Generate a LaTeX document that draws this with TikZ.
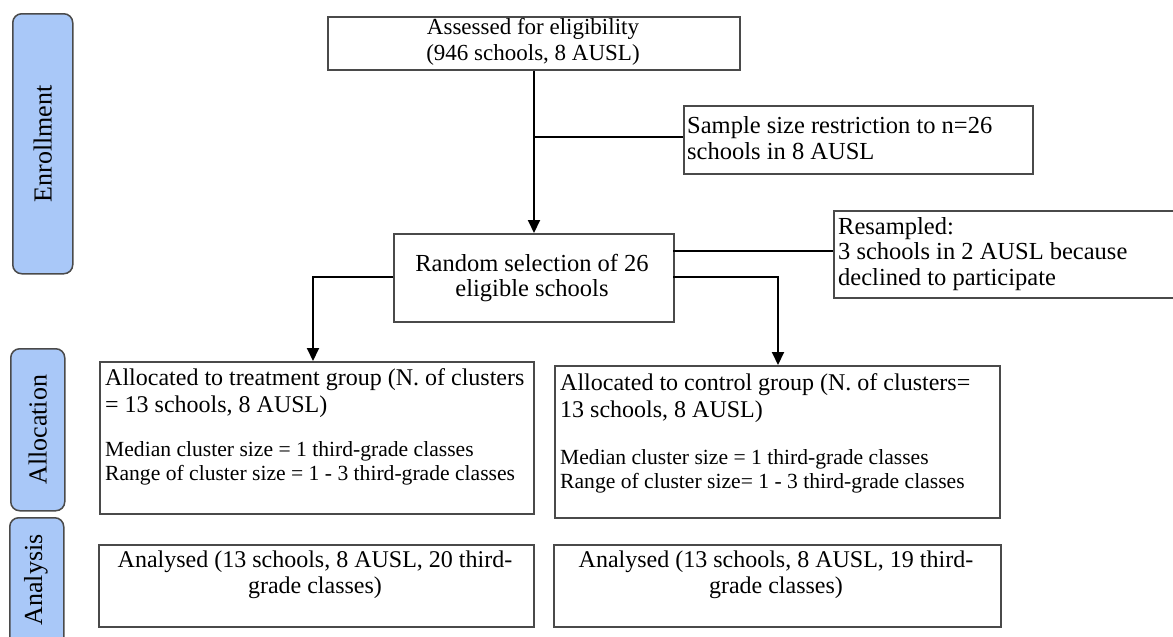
\documentclass[tikz,border=0pt]{standalone}
\usepackage{fontspec}
\setmainfont{Liberation Serif}
\usetikzlibrary{arrows.meta}
\definecolor{sidefill}{HTML}{A9C8F8}
\definecolor{edgecol}{HTML}{4A4A4A}
\begin{document}
\begin{tikzpicture}[x=1pt,y=-1pt,
  side/.style={draw=edgecol, fill=sidefill, line width=1.5pt, rounded corners=9pt, anchor=north west, inner sep=0pt},
  box/.style={draw=edgecol, line width=1.6pt, inner sep=0pt, anchor=north west},
  txt/.style={inner sep=0pt, font=\fontsize{23}{26}\selectfont},
  midtxt/.style={inner sep=0pt, font=\fontsize{24.5}{25.5}\selectfont},
  anatxt/.style={inner sep=0pt, font=\fontsize{24}{26}\selectfont},
  bigtxt/.style={inner sep=0pt, font=\fontsize{24}{27}\selectfont},
  smalltxt/.style={inner sep=0pt, font=\fontsize{21.6}{24}\selectfont},
  sidetxt/.style={inner sep=0pt, rotate=90, font=\fontsize{26}{28}\selectfont},
  arr/.style={line width=2pt, -{Triangle[width=12pt,length=13pt]}},
  link/.style={line width=1.3pt}
]
\useasboundingbox (0,0) rectangle (1173,637);

% side labels
\node[side, minimum width=60, minimum height=260] (enr) at (12,13) {};
\node[sidetxt] (enrT) at (enr.center) {Enrollment};
\node[side, minimum width=54, minimum height=162] (alloc) at (10,348) {};
\node[sidetxt] (allocT) at (alloc.center) {Allocation};
\node[side, minimum width=54, minimum height=140] (anal) at (9,517) {};
\node[sidetxt] (analT) at (36,580) {Analysis};

% boxes
\node[box, minimum width=412, minimum height=53] (assess) at (327,16) {};
\node[txt, align=center] (assessT) at (533,42) {Assessed for eligibility\\(946 schools, 8 AUSL)};

\node[box, minimum width=349, minimum height=68] (sample) at (683,105) {};
\node[midtxt, align=left, anchor=west] (sampleT) at (687,138) {Sample size restriction to n=26\\schools in 8 AUSL};

\node[box, minimum width=280, minimum height=88] (random) at (393,233) {};
\node[midtxt, align=center] (randomT) at (532,278) {Random selection of 26\\eligible schools};

\node[box, minimum width=345, minimum height=87] (resamp) at (833,210) {};
\node[midtxt, align=left, anchor=west] (resampT) at (838,254) {Resampled:\\3 schools in 2 AUSL because\\declined to participate};

\node[box, minimum width=434, minimum height=152] (treat) at (99,361) {};
\node[bigtxt, align=left, anchor=north west] (treatA) at (105,368) {Allocated to treatment group (N. of clusters\\= 13 schools, 8 AUSL)};
\node[smalltxt, align=left, anchor=north west] (treatB) at (105,441) {Median cluster size = 1 third-grade classes\\Range of cluster size = 1 - 3 third-grade classes};

\node[box, minimum width=445, minimum height=152] (control) at (554,365) {};
\node[bigtxt, align=left, anchor=north west] (controlA) at (560,373) {Allocated to control group (N. of clusters=\\13 schools, 8 AUSL)};
\node[smalltxt, align=left, anchor=north west] (controlB) at (560,449) {Median cluster size = 1 third-grade classes\\Range of cluster size= 1 - 3 third-grade classes};

\node[box, minimum width=435, minimum height=82] (anaL) at (98,544) {};
\node[anatxt, align=center] (anaLT) at (315,575) {Analysed (13 schools, 8 AUSL, 20 third-\\grade classes)};
\node[box, minimum width=447, minimum height=82] (anaR) at (553,544) {};
\node[anatxt, align=center] (anaRT) at (776,575) {Analysed (13 schools, 8 AUSL, 19 third-\\grade classes)};

% connectors
\draw[arr] (assess.south -| 534,0) -- (random.north -| 534,0);
\coordinate (j1) at (534,137);
\draw[link] (j1) -- (sample.west |- j1);
\coordinate (j2) at (673,251);
\draw[link] (j2) -- (resamp.west |- j2);
\coordinate (j3) at (393,277);
\draw[arr] (j3) -| (treat.north -| 313,0);
\coordinate (j4) at (673,277);
\draw[arr] (j4) -| (control.north -| 778,0);
\end{tikzpicture}
\end{document}
